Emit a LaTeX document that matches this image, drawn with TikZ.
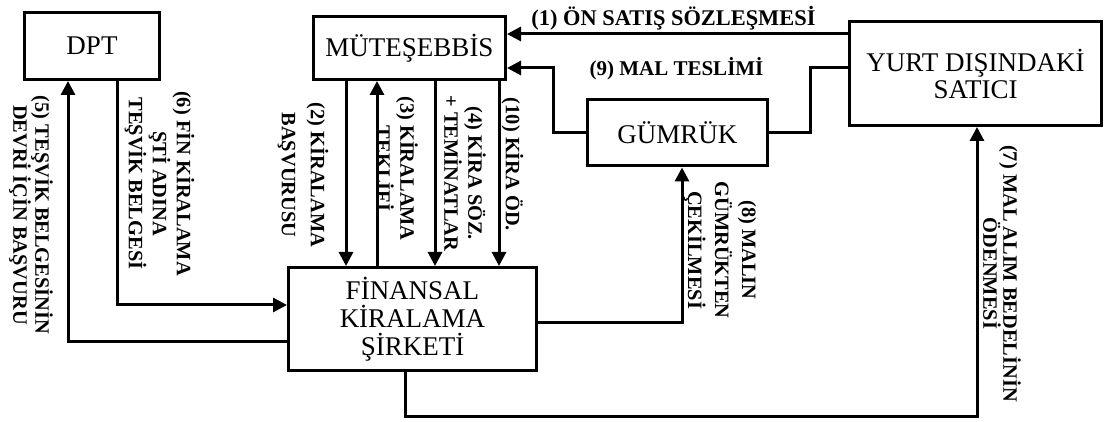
\documentclass[tikz,border=0pt]{standalone}
\usepackage{fontspec}
\setmainfont{Liberation Serif}
\usepackage{tikz}
\usetikzlibrary{arrows.meta,positioning,calc}

\begin{document}
\begin{tikzpicture}[
  x=0.5pt, y=-0.5pt,
  >={Triangle[length=7pt,width=7pt]},
  box/.style={draw, line width=1.5pt, rectangle, inner sep=2pt, align=center,
              font=\fontsize{13.5}{14}\selectfont},
  lbl/.style={inner sep=0pt, align=center,
              font=\fontsize{10.5}{12}\selectfont\bfseries},
  vlbl/.style={lbl, rotate=-90, font=\fontsize{10.2}{12}\selectfont\bfseries},
  ln/.style={line width=1.5pt},
  arr/.style={->, line width=1.5pt},
]
\useasboundingbox (0,0) rectangle (1105,422);

%%---- Parties --------------------------------------------------------
\node[box, minimum width=67.5pt, minimum height=33.5pt] (dpt) at (92,46) {DPT};
\node[box, minimum width=96pt, minimum height=31.5pt] (mut) at (409.5,48) {MÜTEŞEBBİS};
\node[box, minimum width=124pt, minimum height=51.5pt] (fin) at (412.5,319)
  {FİNANSAL\\KİRALAMA\\ŞİRKETİ};
\node[box, minimum width=90pt, minimum height=33pt] (gum) at (677.5,133) {GÜMRÜK};
\node[box, minimum width=126pt, minimum height=52pt, font=\fontsize{13.5}{13.5}\selectfont]
  (yurt) at (975.5,73.5) {YURT DIŞINDAKİ\\SATICI};

%%---- Routing points -------------------------------------------------
\coordinate (r1) at (0,34);
\coordinate (r9) at (0,68);
\coordinate (k9l) at (553,100);
\coordinate (k9r) at (810,100);
\coordinate (c2) at (346,0);
\coordinate (c3) at (377,0);
\coordinate (c4) at (435,0);
\coordinate (c10) at (499,0);
\coordinate (c5) at (68,0);
\coordinate (r5) at (0,342);
\coordinate (c6) at (117,0);
\coordinate (r6) at (0,305);
\coordinate (c8) at (682,0);
\coordinate (r8) at (0,323);
\coordinate (c7) at (405,0);
\coordinate (k7) at (977,417);

%%---- Flows ----------------------------------------------------------
% (1) pre-sale contract, (9) delivery through customs
\draw[arr] (yurt.west |- r1) -- (mut.east |- r1);
\draw[ln] (yurt.west |- r9) -| (k9r) |- (gum.east);
\draw[arr] (gum.west) -| (k9l) |- (mut.east |- r9);

% entrepreneur <-> leasing company
\draw[arr] (mut.south -| c2) -- (fin.north -| c2);
\draw[arr] (fin.north -| c3) -- (mut.south -| c3);
\draw[arr] (mut.south -| c4) -- (fin.north -| c4);
\draw[arr] (mut.south -| c10) -- (fin.north -| c10);

% DPT loop
\draw[arr] (fin.west |- r5) -| (dpt.south -| c5);
\draw[arr] (dpt.south -| c6) |- (fin.west |- r6);

% customs and payment to the seller
\draw[arr] (fin.east |- r8) -| (gum.south -| c8);
\draw[arr] (fin.south -| c7) |- (k7) -- (yurt.south -| k7);

%%---- Labels ---------------------------------------------------------
\node[lbl, font=\fontsize{11.2}{12}\selectfont\bfseries] (l1) at (673.5,18)
  {(1) ÖN SATIŞ SÖZLEŞMESİ};
\node[lbl] (l9) at (676.5,68.5) {(9) MAL TESLİMİ};
\node[vlbl] (l2) at (303,175) {(2) KİRALAMA\\[2.5pt]BAŞVURUSU};
\node[vlbl] (l3) at (397,168.5) {(3) KİRALAMA\\TEKLİFİ};
\node[vlbl] (l4) at (465,173.5) {(4) KİRA SÖZ.\\+ TEMİNATLAR};
\node[vlbl] (l10) at (512.5,164.5) {(10) KİRA ÖD.};
\node[vlbl] (l5) at (31,215) {(5) TEŞVİK BELGESİNİN\\[-1pt]DEVRİ İÇİN BAŞVURU};
\node[vlbl] (l6) at (159.5,183.5) {(6) FİN KİRALAMA\\ŞTİ ADINA\\TEŞVİK BELGESİ};
\node[vlbl] (l8) at (720,250) {(8) MALIN\\[1.5pt]GÜMRÜKTEN\\[1.5pt]ÇEKİLMESİ};
\node[vlbl] (l7) at (1002,273.5) {(7) MAL ALIM BEDELİNİN\\[-2pt]ÖDENMESİ};

\end{tikzpicture}
\end{document}
